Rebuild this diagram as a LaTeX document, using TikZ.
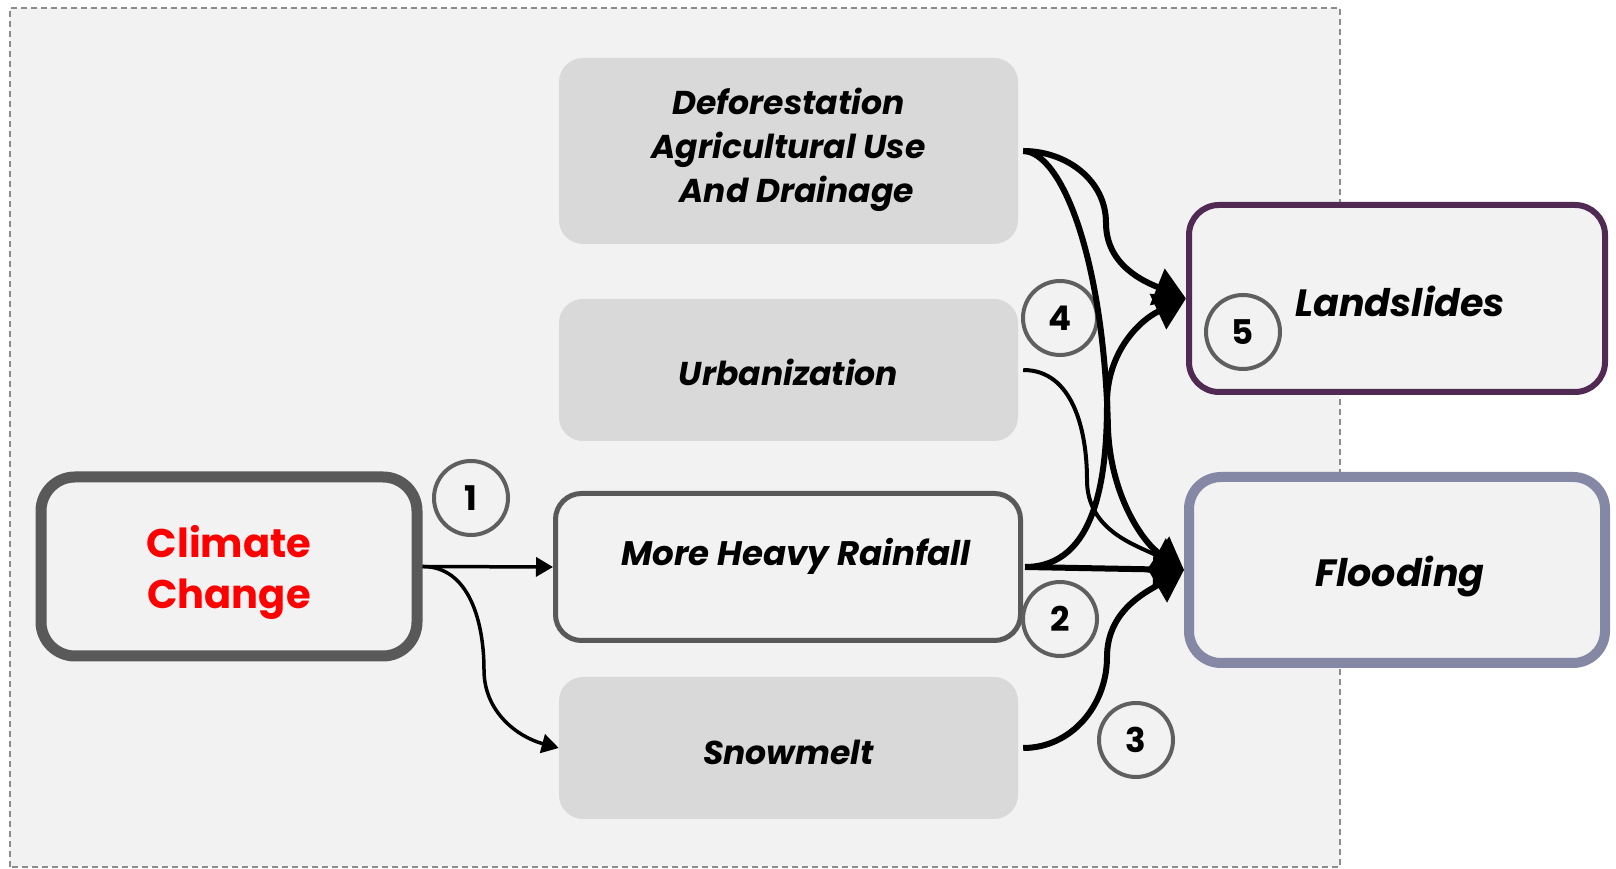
\documentclass[tikz,border=0pt]{standalone}
\usepackage{fontspec}
\setmainfont{Poppins}
\usetikzlibrary{arrows.meta}
\definecolor{bgc}{HTML}{F2F2F2}
\definecolor{boxg}{HTML}{D9D9D9}
\definecolor{dgray}{HTML}{595959}
\definecolor{cgray}{HTML}{5F5F5F}
\definecolor{landc}{HTML}{512A54}
\definecolor{floodc}{HTML}{8588A5}
\definecolor{dashc}{HTML}{8C8C8C}
\definecolor{cred}{HTML}{FF0000}
\begin{document}
\begin{tikzpicture}[x=1pt,y=1pt,
  gbox/.style={rounded corners=24pt, fill=boxg, minimum width=459pt, inner sep=0pt},
  itxt/.style={inner sep=0pt, align=center, font=\fontsize{33}{44}\selectfont\bfseries\itshape},
  btxt/.style={inner sep=0pt, align=center, font=\fontsize{38}{44}\selectfont\bfseries\itshape},
  numc/.style={circle, draw=cgray, line width=4pt, minimum size=74pt, inner sep=0pt,
    font=\fontsize{34}{40}\selectfont\bfseries},
  bigarr/.style={line width=6pt, -{Triangle[length=31pt,width=38pt]}},
  medarr/.style={line width=4pt, -{Triangle[length=31pt,width=38pt]}},
  smarr/.style={line width=3.5pt, -{Triangle[length=17pt,width=19pt]}}
]
\useasboundingbox (0,0) rectangle (1616,869);
% background panel
\draw[fill=bgc, draw=dashc, line width=1.5pt, dash pattern=on 6pt off 4pt] (10,2) rectangle (1340,861);

% nodes
\node[draw=dgray, fill=bgc, line width=11pt, rounded corners=34pt, minimum width=376pt, minimum height=179pt,
  inner sep=0pt,
  label={[inner sep=0pt, align=center, text=cred, font=\fontsize{40}{51}\selectfont\bfseries, yshift=-6pt]center:Climate\\Change}] (cc) at (229,302.5) {};

\node[gbox, minimum height=186pt,
  label={[itxt, yshift=1.5pt]center:Deforestation\\Agricultural Use\\\hspace*{0.5em}And Drainage}] (def) at (788.5,718) {};
\node[gbox, minimum height=142pt, label={[itxt, yshift=-2pt]center:Urbanization}] (urb) at (788.5,499) {};
\node[draw=dgray, fill=bgc, line width=5pt, rounded corners=26pt, minimum width=465pt, minimum height=147pt,
  inner sep=0pt, label={[itxt, font=\fontsize{34}{44}\selectfont\bfseries\itshape, xshift=8pt, yshift=11pt]center:More Heavy Rainfall}] (mhr) at (788,302) {};
\node[gbox, minimum height=142pt, label={[itxt, yshift=-4pt]center:Snowmelt}] (snow) at (788.5,121) {};

\node[draw=landc, fill=bgc, line width=6pt, rounded corners=30pt, minimum width=416pt, minimum height=187pt,
  inner sep=0pt, label={[btxt, xshift=3pt, yshift=-3pt]center:Landslides}] (land) at (1397,570.5) {};
\node[draw=floodc, fill=bgc, line width=10pt, rounded corners=32pt, minimum width=416pt, minimum height=186pt,
  inner sep=0pt, label={[btxt, xshift=3pt, yshift=-7pt]center:Flooding}] (flood) at (1397,299) {};

% numbered circles
\node[numc] (n1) at (471,371) {1};
\node[numc] (n4) at (1060,551) {4};
\node[numc] (n5) at (1243,537) {5};
\node[numc] (n2) at (1060,250) {2};
\node[numc] (n3) at (1136,129) {3};

% waypoints
\coordinate (m1) at (1106,646);
\coordinate (m2) at (1108,440);
\coordinate (m3) at (1087,389);
\coordinate (m4) at (1107,466);
\coordinate (m5) at (1107,212);
\coordinate (m6) at (484,199);

% connectors
\draw[smarr] (cc.east) -- (mhr.west);
\draw[smarr] (cc.east) to[out=0,in=90] (m6) to[out=-90,in=165] (snow.west);

\draw[bigarr] ([xshift=5pt]def.east) to[out=0,in=90] (m1) to[out=-90,in=158] (land.west);
\draw[bigarr] ([xshift=5pt]def.east) .. controls (1062,717) and (1104,610) .. (m2) .. controls (1111,370) and (1145,325) .. (flood.west);
\draw[medarr] ([xshift=5pt]urb.east) to[out=0,in=90] (m3) to[out=-90,in=152] (flood.west);
\draw[bigarr] ([xshift=2pt]mhr.east) to[out=0,in=-90] (m4) to[out=90,in=205] (land.west);
\draw[bigarr] ([xshift=2pt]mhr.east) -- (flood.west);
\draw[bigarr] ([xshift=5pt]snow.east) to[out=0,in=-90] (m5) to[out=90,in=210] (flood.west);
\end{tikzpicture}
\end{document}
